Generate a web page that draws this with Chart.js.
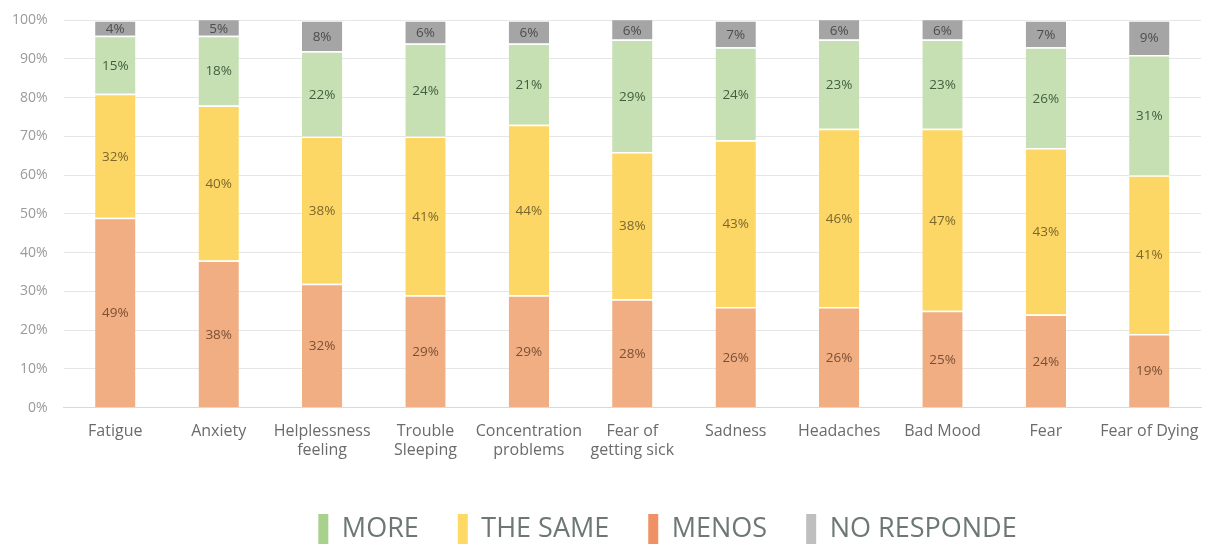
<!DOCTYPE html>
<html lang="en">
<head>
    <meta charset="UTF-8">
    <title>Symptoms</title>
    <script src="https://cdn.jsdelivr.net/npm/chart.js"></script>
    <style>
        html, body { margin: 0; padding: 0; background: #fff; }
        #wrap { width: 1212px; height: 545px; }
    </style>
</head>
<body>
    <div id="wrap"><canvas id="chart"></canvas></div>
    <script>
        // Categories and shares (%), stacked from the bottom up
        const categories = ['Fatigue', 'Anxiety', ['Helplessness', 'feeling'], ['Trouble', 'Sleeping'],
            ['Concentration', 'problems'], ['Fear of', 'getting sick'], 'Sadness', 'Headaches',
            'Bad Mood', 'Fear', 'Fear of Dying'];
        const menos = [49, 38, 32, 29, 29, 28, 26, 26, 25, 24, 19];
        const theSame = [32, 40, 38, 41, 44, 38, 43, 46, 47, 43, 41];
        const more = [15, 18, 22, 24, 21, 29, 24, 23, 23, 26, 31];
        const noResponde = [4, 5, 8, 6, 6, 6, 7, 6, 6, 7, 9];
        const yTicks = [0, 10, 20, 30, 40, 50, 60, 70, 80, 90, 100];

        const FONT = "'Open Sans', 'Noto Sans', sans-serif";

        // value labels in the middle of each segment
        const segmentLabels = {
            id: 'segmentLabels',
            afterDatasetsDraw(chart) {
                const ctx = chart.ctx;
                ctx.save();
                ctx.font = '13.5px ' + FONT;
                ctx.textAlign = 'center';
                ctx.textBaseline = 'middle';
                chart.data.datasets.forEach((ds, i) => {
                    const meta = chart.getDatasetMeta(i);
                    meta.data.forEach((bar, j) => {
                        const top = Math.max(bar.y, chart.chartArea.top);
                        const y = (top + bar.base) / 2;
                        ctx.fillStyle = ds.labelColor;
                        ctx.fillText(ds.data[j] + '%', bar.x, y + 1);
                    });
                });
                ctx.restore();
            }
        };

        // the legend row sits a little lower and right of centre
        const legendOffset = {
            id: 'legendOffset',
            afterLayout(chart) {
                const lg = chart.legend;
                lg.left += 69; lg.right += 69;
                lg.top += 9; lg.bottom += 9;
            }
        };

        function series(label, data, color, legendColor, labelColor) {
            return {
                label: label,
                data: data,
                backgroundColor: color,
                legendColor: legendColor,
                labelColor: labelColor,
                borderColor: 'rgba(255,255,255,0.7)',
                borderWidth: { top: 1.5 },
                borderSkipped: false,
                barPercentage: 0.39,
                categoryPercentage: 1
            };
        }

        const datasets = [
            series('MENOS', menos, '#f1ae82', '#f09165', 'rgba(100,62,40,0.85)'),
            series('THE SAME', theSame, '#fdd765', '#ffd966', 'rgba(100,82,35,0.85)'),
            series('MORE', more, '#c6e0b4', '#a9d18e', 'rgba(50,80,48,0.9)'),
            series('NO RESPONDE', noResponde, '#a5a5a5', '#bfbfbf', 'rgba(60,60,60,0.85)')
        ];
        const legendOrder = ['MORE', 'THE SAME', 'MENOS', 'NO RESPONDE'];

        new Chart(document.getElementById('chart'), {
            type: 'bar',
            data: { labels: categories, datasets: datasets },
            plugins: [segmentLabels, legendOffset],
            options: {
                responsive: true,
                maintainAspectRatio: false,
                animation: false,
                layout: { padding: { left: -4, right: 11, top: 0, bottom: 0 } },
                plugins: {
                    tooltip: { enabled: false },
                    legend: {
                        position: 'bottom',
                        labels: {
                            color: '#6d7873',
                            font: { family: FONT, size: 27 },
                            boxWidth: 10,
                            boxHeight: 30,
                            padding: 39,
                            generateLabels(chart) {
                                return legendOrder.map(name => {
                                    const ds = chart.data.datasets.find(d => d.label === name);
                                    return {
                                        text: name,
                                        fillStyle: ds.legendColor,
                                        strokeStyle: ds.legendColor,
                                        lineWidth: 0,
                                        fontColor: '#6d7873',
                                        datasetIndex: chart.data.datasets.indexOf(ds)
                                    };
                                });
                            }
                        }
                    }
                },
                scales: {
                    x: {
                        stacked: true,
                        grid: { display: false },
                        border: { color: '#d9d9d9' },
                        ticks: {
                            color: '#6b6b6b',
                            font: { family: FONT, size: 16 },
                            padding: 6,
                            maxRotation: 0,
                            autoSkip: false
                        }
                    },
                    y: {
                        stacked: true,
                        min: 0,
                        max: 100,
                        afterBuildTicks(axis) {
                            axis.ticks = yTicks.map(v => ({ value: v }));
                        },
                        grid: { color: '#e6e6e6', drawTicks: false },
                        border: { display: false },
                        ticks: {
                            color: '#9a9a9a',
                            font: { family: FONT, size: 14, lineHeight: 0.6 },
                            padding: 16,
                            callback: v => v + '%'
                        }
                    }
                }
            }
        });
    </script>
</body>
</html>
